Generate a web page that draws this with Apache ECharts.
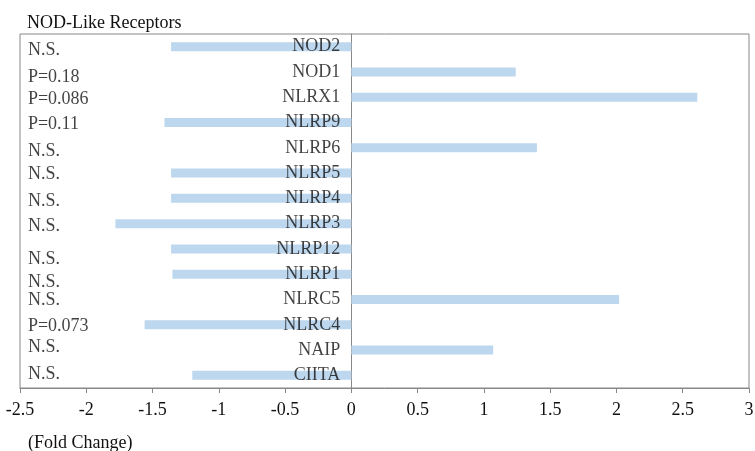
<!DOCTYPE html>
<html>
<head>
<meta charset="utf-8">
<script src="https://cdn.jsdelivr.net/npm/echarts@6/dist/echarts.min.js"></script>
<style>
  html, body { margin: 0; padding: 0; background: #fff; }
  #main { width: 755px; height: 451px; }
</style>
</head>
<body>
<div id="main"></div>
<script>
// receptors, top to bottom
var genes = ['NOD2', 'NOD1', 'NLRX1', 'NLRP9', 'NLRP6', 'NLRP5', 'NLRP4', 'NLRP3',
             'NLRP12', 'NLRP1', 'NLRC5', 'NLRC4', 'NAIP', 'CIITA'];
var foldChange = [-1.36, 1.24, 2.61, -1.41, 1.40, -1.36, -1.36, -1.78,
                  -1.36, -1.35, 2.02, -1.56, 1.07, -1.20];
var pLabels = ['N.S.', 'P=0.18', 'P=0.086', 'P=0.11', 'N.S.', 'N.S.', 'N.S.', 'N.S.',
               'N.S.', 'N.S.', 'N.S.', 'P=0.073', 'N.S.', 'N.S.'];
// vertical position of each p-value note, in rows from the top
var pRows = [0.63, 1.70, 2.57, 3.56, 4.62, 5.53, 6.60, 7.59, 8.89, 9.80, 10.55, 11.54, 12.37, 13.44];
var xTicks = { min: -2.5, max: 3, step: 0.5 };

var font = '"Liberation Serif", "Times New Roman", serif';
var txt = '#111';

var pData = pLabels.map(function (t, i) { return [-2.44, pRows[i]]; });
// gene names sit just left of the zero line
var nameData = genes.map(function (g) { return [0, g]; });

var chart = echarts.init(document.getElementById('main'));
chart.setOption({
    animation: false,
    title: [
        { text: 'NOD-Like Receptors', left: 22, top: 9,
          textStyle: { fontFamily: font, fontSize: 18, fontWeight: 'normal', color: txt } },
        { text: '(Fold Change)', left: 23, top: 429,
          textStyle: { fontFamily: font, fontSize: 18, fontWeight: 'normal', color: txt } }
    ],
    grid: {
        left: 20, right: 6, top: 34, bottom: 63,
        outerBoundsMode: 'none',
        containLabel: false,
        show: true, borderColor: '#888', borderWidth: 1
    },
    xAxis: {
        type: 'value',
        min: xTicks.min, max: xTicks.max, interval: xTicks.step,
        axisLine: { show: true, onZero: false, lineStyle: { color: '#888' } },
        axisTick: { show: true, length: 5, lineStyle: { color: '#888' } },
        splitLine: { show: false },
        axisLabel: { fontFamily: font, fontSize: 18, color: txt, margin: 13 }
    },
    yAxis: [
        {
            type: 'category',
            data: genes,
            inverse: true,
            axisLine: { show: true, onZero: true, lineStyle: { color: '#888' } },
            axisTick: { show: false },
            axisLabel: { show: false }
        },
        {
            type: 'value',
            min: 0, max: 14,
            inverse: true,
            show: false
        }
    ],
    series: [
        {
            type: 'bar',
            data: foldChange,
            barWidth: 9,
            itemStyle: { color: '#bdd7ee' }
        },
        {
            type: 'scatter',
            data: nameData,
            symbolSize: 0,
            silent: true,
            z: 5,
            label: {
                show: true,
                position: 'left',
                distance: 11,
                fontFamily: font,
                fontSize: 18,
                color: txt,
                formatter: function (p) { return genes[p.dataIndex]; }
            }
        },
        {
            type: 'scatter',
            yAxisIndex: 1,
            data: pData,
            symbolSize: 0,
            silent: true,
            label: {
                show: true,
                position: 'right',
                distance: 0,
                fontFamily: font,
                fontSize: 18,
                color: txt,
                formatter: function (p) { return pLabels[p.dataIndex]; }
            }
        }
    ]
});
</script>
</body>
</html>
